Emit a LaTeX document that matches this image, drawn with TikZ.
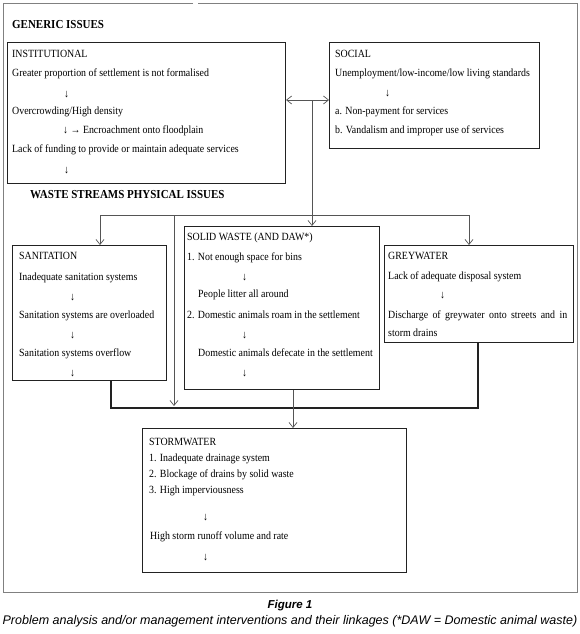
\documentclass[tikz,border=0pt]{standalone}
\usepackage{fontspec}
\setmainfont{Liberation Serif}[FakeStretch=0.9]
\newfontfamily\capfont{Liberation Sans}
\usetikzlibrary{arrows.meta}
\definecolor{frame}{HTML}{808080}
\definecolor{boxc}{HTML}{222222}
\definecolor{conc}{HTML}{555555}
\tikzset{
  box/.style={draw=boxc, line width=1.1pt, rectangle, inner sep=0, anchor=north west},
  t/.style={anchor=base west, inner sep=0, font=\fontsize{11}{12}\selectfont, text=black},
  hd/.style={anchor=base west, inner sep=0, font=\fontsize{12.2}{13}\selectfont\bfseries, text=black},
  conn/.style={draw=conc, line width=0.7pt, -{Straight Barb[length=5pt,width=8pt]}},
  dbl/.style={draw=conc, line width=0.7pt, {Straight Barb[length=5pt,width=8pt]}-{Straight Barb[length=5pt,width=8pt]}},
  coll/.style={draw=boxc, line width=1.1pt},
}
\begin{document}
\begin{tikzpicture}[x=1pt,y=-1pt]
\useasboundingbox (0,0) rectangle (580,634);
\fill[white] (0,0) rectangle (580,634);
% outer frame
\draw[frame, line width=0.9pt] (193,3) -- (3,3) -- (3,592) -- (577,592) -- (577,3) -- (198,3);

% headings
\node[hd] (gen) at (12,29) {GENERIC ISSUES};
\node[hd] (wsp) at (30,198.5) {WASTE STREAMS PHYSICAL ISSUES};

% boxes
\node[box, minimum width=278, minimum height=141] (inst) at (7,42) {};
\node[box, minimum width=210, minimum height=106] (social) at (329,42) {};
\node[box, minimum width=154, minimum height=135] (sanit) at (12,245) {};
\node[box, minimum width=195, minimum height=163] (solid) at (184,226) {};
\node[box, minimum width=189, minimum height=97] (grey) at (384,245) {};
\node[box, minimum width=264, minimum height=144] (storm) at (142,428) {};

% institutional text
\node[t] (i1) at (12,57.5) {INSTITUTIONAL};
\node[t] (i2) at (12,76.5) {Greater proportion of settlement is not formalised};
\node[t] (i3) at (64,97.5) {↓};
\node[t] (i4) at (12,114.5) {Overcrowding/High density};
\node[t] (i5) at (63,133.5) {↓ → Encroachment onto floodplain};
\node[t] (i6) at (12,152.5) {Lack of funding to provide or maintain adequate services};
\node[t] (i7) at (64,173.5) {↓};

% social text
\node[t] (so1) at (335,57.5) {SOCIAL};
\node[t] (so2) at (335,76.5) {Unemployment/low-income/low living standards};
\node[t] (so3) at (385,96.5) {↓};
\node[t] (so4) at (335,114.5) {a. Non-payment for services};
\node[t] (so5) at (335,133.5) {b. Vandalism and improper use of services};

% sanitation text
\node[t] (sa1) at (19,259.5) {SANITATION};
\node[t] (sa2) at (19,280.5) {Inadequate sanitation systems};
\node[t] (sa3) at (70,300.5) {↓};
\node[t] (sa4) at (19,318.5) {Sanitation systems are overloaded};
\node[t] (sa5) at (70,338.5) {↓};
\node[t] (sa6) at (19,356.5) {Sanitation systems overflow};
\node[t] (sa7) at (70,376.5) {↓};

% solid waste text
\node[t] (sw1) at (187,240.5) {SOLID WASTE (AND DAW*)};
\node[t] (sw2) at (187,260.5) {1. Not enough space for bins};
\node[t] (sw3) at (242,280.5) {↓};
\node[t] (sw4) at (198,297.5) {People litter all around};
\node[t] (sw5) at (187,318.5) {2. Domestic animals roam in the settlement};
\node[t] (sw6) at (242,338.5) {↓};
\node[t] (sw7) at (198,356.5) {Domestic animals defecate in the settlement};
\node[t] (sw8) at (242,376.5) {↓};

% greywater text
\node[t] (g1) at (388,259.5) {GREYWATER};
\node[t] (g2) at (388,279.5) {Lack of adequate disposal system};
\node[t] (g3) at (440,298.5) {↓};
\node[t] (g4) at (388,318.5) {\makebox[179pt][s]{Discharge of greywater onto streets and in}};
\node[t] (g5) at (388,336.5) {storm drains};

% stormwater text
\node[t] (st1) at (149,445.5) {STORMWATER};
\node[t] (st2) at (149,461.5) {1. Inadequate drainage system};
\node[t] (st3) at (149,477.5) {2. Blockage of drains by solid waste};
\node[t] (st4) at (149,493.5) {3. High imperviousness};
\node[t] (st5) at (203,520.5) {↓};
\node[t] (st6) at (150,539.5) {High storm runoff volume and rate};
\node[t] (st7) at (203,560.5) {↓};

% connector coordinates
\coordinate (da) at (312,100);
\coordinate (hl) at (100,215);
\coordinate (hr) at (469,215);
\coordinate (v1) at (174,215);
\coordinate (v2) at (174,406);
\coordinate (c1) at (111,408);
\coordinate (c2) at (478,408);
\coordinate (s1) at (293,408);

% connectors
\draw[dbl] (inst.east |- da) -- (social.west |- da);
\draw[conn] (da) -- (solid.north -| da);
\draw[conn] (hl) -- (hr) -- (grey.north -| hr);
\draw[conn] (hl) -- (sanit.north -| hl);
\draw[conn] (v1) -- (v2);
\draw[coll] (sanit.south -| c1) -- (c1) -- (c2) -- (grey.south -| c2);
\draw[conn] (solid.south -| s1) -- (storm.north -| s1);

% caption
\node[anchor=base, inner sep=0, font=\capfont\fontsize{11.5}{13}\selectfont\bfseries\itshape] (fig) at (290,608) {Figure 1};
\node[anchor=base, inner sep=0, font=\capfont\fontsize{12.5}{14}\selectfont\itshape] (cap) at (290,624.5) {Problem analysis and/or management interventions and their linkages (*DAW = Domestic animal waste)};
\end{tikzpicture}
\end{document}
